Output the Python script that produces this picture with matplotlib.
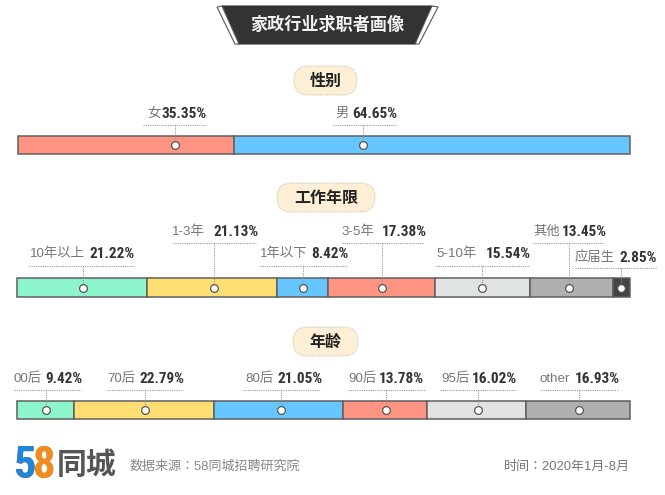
import matplotlib
matplotlib.use("Agg")
import matplotlib.pyplot as plt
from matplotlib.patches import FancyBboxPatch, Polygon, Rectangle

# ---------- data ----------
title = "家政行业求职者画像"
source = "数据来源：58同城招聘研究院"
period = "时间：2020年1月-8月"

gender_title = "性别"
gender_labels = ["女", "男"]
gender_values = [35.35, 64.65]

exp_title = "工作年限"
exp_labels = ["10年以上", "1-3年", "1年以下", "3-5年", "5-10年", "其他", "应届生"]
exp_values = [21.22, 21.13, 8.42, 17.38, 15.54, 13.45, 2.85]

age_title = "年龄"
age_labels = ["00后", "70后", "80后", "90后", "95后", "other"]
age_values = [9.42, 22.79, 21.05, 13.78, 16.02, 16.93]

# ---------- style ----------
SALMON, BLUE, MINT, YELLOW, LIGHT, GREY, DARK = (
    "#FF9482", "#66C6FF", "#8CF5CC", "#FFDE73", "#E0E3E1", "#B0B0B0", "#444444")
CJK = "Noto Sans CJK JP"
LATIN = ["Liberation Sans", CJK]
NARROW = ["Roboto Condensed", CJK]

W, H = 665, 495
fig = plt.figure(figsize=(W / 100, H / 100), dpi=100, facecolor="white")
page = fig.add_axes([0, 0, 1, 1], zorder=5)
page.set_xlim(0, W)
page.set_ylim(H, 0)
page.axis("off")
page.patch.set_alpha(0)

rows = [
    dict(labels=gender_labels, values=gender_values, colors=[SALMON, BLUE],
         x0=17.5, w=612.5, yc=145, h=18,
         nudge=[8.0, -11.3],
         text_x=[147, 335], val_x=[162, 352], line=[(143, 206), (333, 396)],
         line_y=[125, 125], text_y=[114, 114]),
    dict(labels=exp_labels, values=exp_values,
         colors=[MINT, YELLOW, BLUE, SALMON, LIGHT, GREY, DARK],
         x0=17, w=613, yc=287.5, h=18.5,
         nudge=[0.1, 0.4, 0.15, 0.15, -0.1, -0.3, 0],
         text_x=[30, 172, 260, 341, 436, 533, 575],
         val_x=[89, 213, 311, 382, 486, 562, 620],
         line=[(29, 134), (173, 256), (260, 347), (342, 424), (436, 529), (533, 604), (575, 657)],
         line_y=[265.5, 243, 265.5, 243, 265.5, 243, 268],
         text_y=[254, 232, 254, 232, 254, 232, 258]),
    dict(labels=age_labels, values=age_values,
         colors=[MINT, YELLOW, BLUE, SALMON, LIGHT, GREY],
         x0=16.5, w=613, yc=410, h=18.5,
         nudge=[0.1, 0.15, 0.45, 0.15, 0.15, 0.25],
         text_x=[14, 107, 245, 348, 441, 540],
         val_x=[45, 140, 277, 379, 472, 575],
         line=[(14, 81), (107, 183), (243, 320), (348, 425), (440, 516), (541, 618)],
         line_y=[390] * 6, text_y=[379] * 6),
]

for r in rows:
    ax = fig.add_axes([r["x0"] / W, 0, r["w"] / W, 1], zorder=2)
    ax.set_xlim(0, sum(r["values"]))
    ax.set_ylim(H, 0)
    ax.axis("off")
    left = 0
    for i, (lab, v, c) in enumerate(zip(r["labels"], r["values"], r["colors"])):
        ax.barh(r["yc"], v, left=left, height=r["h"], color=c,
                edgecolor="#5f5f5f", linewidth=1.1, clip_on=False)
        mx = left + v / 2 + r["nudge"][i]
        ax.plot([mx, mx], [r["line_y"][i], r["yc"]], color="#999999", lw=0.8,
                ls=(0, (1, 1)), clip_on=False, zorder=4)
        ax.plot([mx], [r["yc"]], "o", ms=5.6, mfc="white", mec="#555555", mew=0.9,
                clip_on=False, zorder=5)
        page.plot(r["line"][i], [r["line_y"][i]] * 2, color="#999999", lw=0.8, ls=(0, (1, 1)))
        page.text(r["text_x"][i], r["text_y"][i], lab, family=LATIN, fontsize=9.6,
                  color="#777777", va="center", ha="left")
        page.text(r["val_x"][i], r["text_y"][i], f"{v:.2f}%", family=NARROW, fontsize=11,
                  fontweight="bold", color="#333333", va="center", ha="left")
        left += v

# section pills
for txt, x0, x1, y0, y1 in [(gender_title, 294, 357, 66, 95),
                            (exp_title, 277, 375, 183, 212),
                            (age_title, 293, 358, 327, 356)]:
    rad = (y1 - y0) / 2
    page.add_patch(FancyBboxPatch((x0 + rad, y0 + rad), x1 - x0 - 2 * rad, 0,
                                  boxstyle=f"round,pad={rad},rounding_size={rad}",
                                  fc="#FCEFD6", ec="#CFC7B5", lw=0.8, ls=(0, (1, 1))))
    page.text((x0 + x1) / 2, (y0 + y1) / 2, txt, family=[CJK], fontsize=11.5,
              fontweight="bold", color="#222222", ha="center", va="center")

# title banner
page.add_patch(Polygon([(222, 6), (432, 6), (415, 44), (238, 44)], closed=True,
                       fc="#333333", ec="#333333", lw=0.8))
page.add_patch(Polygon([(217, 7), (222, 6), (239, 44), (235, 44)], closed=True,
                       fc="white", ec="#555555", lw=0.8))
page.add_patch(Polygon([(432, 6), (438, 7), (419, 44), (415, 44)], closed=True,
                       fc="white", ec="#555555", lw=0.8))
page.text(327, 25, title, family=[CJK], fontsize=12.3, fontweight="bold",
          color="#F2F2F2", ha="center", va="center")

# logo: digits split in two colours
def logo_digit(ch, x, top_col, bot_col, split):
    for col, (y0, y1) in [(top_col, (440, split)), (bot_col, (split, 490))]:
        t = page.text(x, 466, ch, family=["Roboto Condensed"], fontsize=32, fontweight="bold",
                      color=col, ha="center", va="center")
        t.set_clip_path(Rectangle((0, y0), W, y1 - y0, transform=page.transData))

logo_digit("5", 25.5, "#E8302A", "#1E88D8", 463)
logo_digit("8", 44.5, "#3DB54A", "#F58A1F", 465)
page.text(57, 465, "同城", family=[CJK], fontsize=21.5, fontweight="bold", color="#555555",
          ha="left", va="center")
page.text(130, 467, source, family=LATIN, fontsize=9.4, color="#888888", ha="left", va="center")
page.text(630, 467, period, family=LATIN, fontsize=9.4, color="#777777", ha="right", va="center")

fig.savefig("out.png", dpi=100, facecolor="white")
